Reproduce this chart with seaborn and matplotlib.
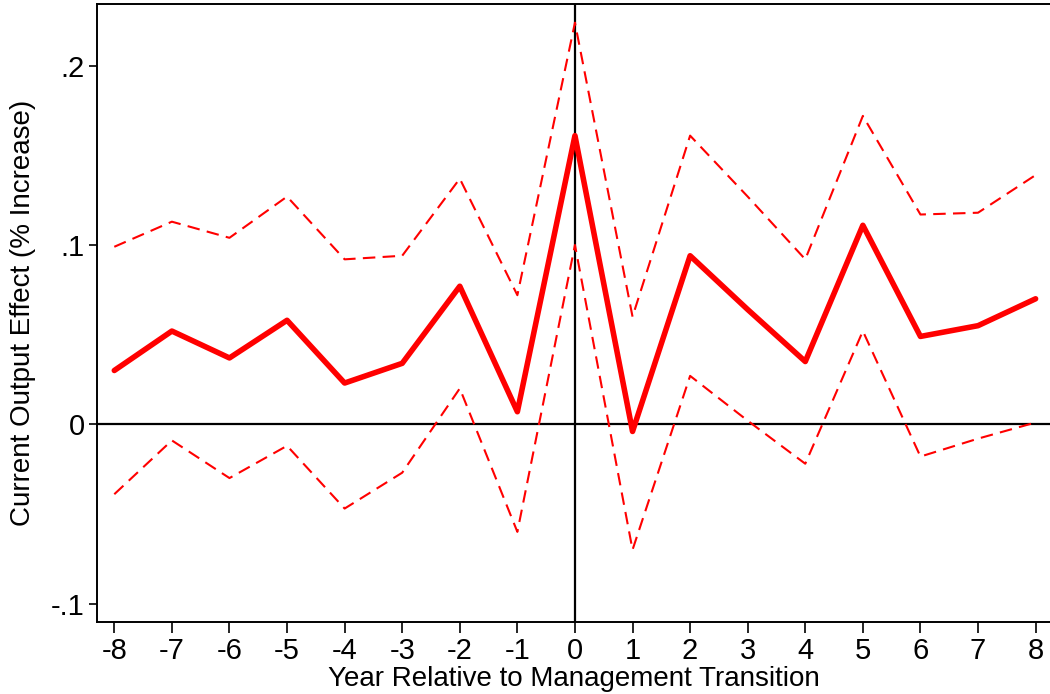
import numpy as np
import pandas as pd
import matplotlib
matplotlib.use("Agg")
import matplotlib.pyplot as plt
import seaborn as sns

# values
years = [-8, -7, -6, -5, -4, -3, -2, -1, 0, 1, 2, 3, 4, 5, 6, 7, 8]
effect = [0.030, 0.052, 0.037, 0.058, 0.023, 0.034, 0.077, 0.007, 0.161,
          -0.004, 0.094, 0.064, 0.035, 0.111, 0.049, 0.055, 0.070]
upper = [0.099, 0.113, 0.104, 0.127, 0.092, 0.094, 0.137, 0.072, 0.224,
         0.060, 0.161, 0.127, 0.092, 0.172, 0.117, 0.118, 0.139]
lower = [-0.039, -0.009, -0.030, -0.012, -0.047, -0.027, 0.020, -0.060, 0.100,
         -0.070, 0.027, 0.002, -0.022, 0.052, -0.018, -0.008, 0.001]
ytick_vals = [-0.1, 0, 0.1, 0.2]
ytick_labels = ['-.1', '0', '.1', '.2']

df = pd.DataFrame({'year': years, 'effect': effect, 'upper': upper, 'lower': lower})

sns.set_style('white')
plt.rcParams['font.family'] = ['Liberation Sans', 'DejaVu Sans']
plt.rcParams['text.color'] = 'black'
plt.rcParams['axes.labelcolor'] = 'black'
plt.rcParams['xtick.color'] = 'black'
plt.rcParams['ytick.color'] = 'black'

fig = plt.figure(figsize=(10.5, 6.94), dpi=100)
ax = fig.add_axes([0.0924, 0.1042, 0.9076, 0.89])

ax.axhline(0, color='black', lw=1.6, zorder=1)
ax.axvline(0, color='black', lw=1.6, zorder=1)

sns.lineplot(data=df, x='year', y='upper', color='red', lw=1.5, ax=ax)
sns.lineplot(data=df, x='year', y='lower', color='red', lw=1.5, ax=ax)
for ln in ax.lines[-2:]:
    ln.set_dashes([6, 3.5])
sns.lineplot(data=df, x='year', y='effect', color='red', lw=4, ax=ax)

ax.set_xlim(-8.30, 8.25)
ax.set_ylim(-0.1101, 0.2344)
ax.set_xticks(years)
ax.set_xticklabels([str(y) for y in years])
ax.set_yticks(ytick_vals)
ax.set_yticklabels(ytick_labels)

ax.tick_params(axis='x', direction='out', length=8, width=1.2, labelsize=21, pad=3,
               bottom=True, color='black', labelcolor='black')
ax.tick_params(axis='y', direction='out', length=6, width=1.2, labelsize=21, pad=3,
               left=True, color='black', labelcolor='black')

for side in ['left', 'bottom', 'top']:
    ax.spines[side].set_color('black')
    ax.spines[side].set_linewidth(1.4)
ax.spines['right'].set_visible(False)

ax.set_xlabel('Year Relative to Management Transition', fontsize=20, color='black')
ax.set_ylabel('Current Output Effect (% Increase)', fontsize=20, color='black')
ax.xaxis.set_label_coords(0.5, -0.071)
ax.yaxis.set_label_coords(-0.064, 0.5)

fig.savefig('out.png', dpi=100)
